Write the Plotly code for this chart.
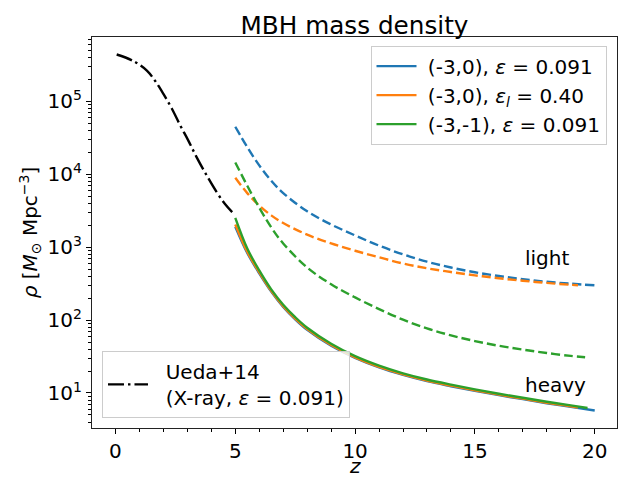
import plotly.graph_objects as go

# ---- data (stored as log10 of rho [Msun Mpc^-3]) ----
z_ueda = [0.05, 0.75, 1.31, 1.65, 2.0, 2.35, 2.7, 3.04, 3.39, 3.81, 4.23, 4.57, 4.87]
log_ueda = [5.64, 5.55, 5.42, 5.28, 5.10, 4.90, 4.67, 4.46, 4.23, 3.98, 3.75, 3.59, 3.48]

z_blue_light = [5, 5.5, 6, 6.5, 7, 8, 9, 10, 11, 12, 13, 14, 15, 16, 17, 18, 19, 20]
log_blue_light = [4.65, 4.37, 4.12, 3.91, 3.74, 3.49, 3.31, 3.16, 3.02, 2.90, 2.80, 2.72, 2.655, 2.603, 2.56, 2.525, 2.498, 2.476]

z_orange_light = [5, 5.5, 6, 6.5, 7, 8, 9, 10, 11, 12, 13, 14, 15, 16, 17, 18, 19, 19.3]
log_orange_light = [3.95, 3.74, 3.57, 3.435, 3.33, 3.17, 3.05, 2.95, 2.86, 2.775, 2.71, 2.658, 2.613, 2.573, 2.539, 2.509, 2.483, 2.476]

z_green_light = [5, 5.5, 6, 6.5, 7, 8, 9, 10, 11, 12, 13, 14, 15, 16, 17, 18, 19, 19.6]
log_green_light = [4.16, 3.84, 3.54, 3.27, 3.05, 2.72, 2.49, 2.31, 2.15, 2.005, 1.885, 1.79, 1.712, 1.647, 1.595, 1.548, 1.508, 1.49]

z_blue_heavy = [5, 5.5, 6, 6.5, 7, 7.5, 8, 9, 10, 11, 12, 13, 14, 15, 16, 17, 18, 19, 20]
log_blue_heavy = [3.28, 2.92, 2.64, 2.39, 2.18, 2.01, 1.865, 1.647, 1.48, 1.35, 1.247, 1.162, 1.093, 1.029, 0.97, 0.915, 0.86, 0.81, 0.76]

z_orange_heavy = [5, 5.5, 6, 6.5, 7, 7.5, 8, 9, 10, 11, 12, 13, 14, 15, 16, 17, 18, 19, 19.3]
log_orange_heavy = [3.31, 2.935, 2.655, 2.40, 2.19, 2.02, 1.877, 1.657, 1.488, 1.358, 1.255, 1.17, 1.10, 1.036, 0.977, 0.922, 0.867, 0.818, 0.80]

z_green_heavy = [5, 5.5, 6, 6.5, 7, 7.5, 8, 9, 10, 11, 12, 13, 14, 15, 16, 17, 18, 19, 19.7]
log_green_heavy = [3.40, 2.98, 2.68, 2.42, 2.21, 2.04, 1.895, 1.675, 1.505, 1.375, 1.27, 1.185, 1.115, 1.05, 0.99, 0.935, 0.88, 0.83, 0.795]

labels = ["(-3,0), <i>ε</i> = 0.091", "(-3,0), <i>ε<sub>l</sub></i> = 0.40", "(-3,-1), <i>ε</i> = 0.091"]
ueda_label = "Ueda+14<br>(X-ray, <i>ε</i> = 0.091)"
y_tickvals = [10, 100, 1000, 10000, 100000]
y_ticktext = ["10<sup>1</sup>", "10<sup>2</sup>", "10<sup>3</sup>", "10<sup>4</sup>", "10<sup>5</sup>"]
x_tickvals = [0, 5, 10, 15, 20]

C_BLUE, C_ORANGE, C_GREEN = "#1f77b4", "#ff7f0e", "#2ca02c"
LW = 2.4
DASH = "9px,4px"
DASHDOT = "16px,4px,2.5px,4px"
FONT = "DejaVu Sans"
FS = 20
NB = "\u00a0"

def lin(v):
    return [10 ** x for x in v]

fig = go.Figure()

def add(x, logy, color, dash, name, show, legend="legend"):
    fig.add_trace(go.Scatter(
        x=x, y=lin(logy), mode="lines", name=name, showlegend=show, legend=legend,
        line=dict(color=color, width=LW, dash=dash, shape="spline", smoothing=1.0),
    ))

# light seeds (dashed)
add(z_blue_light, log_blue_light, C_BLUE, DASH, labels[0], False)
add(z_orange_light, log_orange_light, C_ORANGE, DASH, labels[1], False)
add(z_green_light, log_green_light, C_GREEN, DASH, labels[2], False)
# heavy seeds (solid)
add(z_blue_heavy, log_blue_heavy, C_BLUE, "solid", NB + labels[0], True)
add(z_orange_heavy, log_orange_heavy, C_ORANGE, "solid", NB + labels[1], True)
add(z_green_heavy, log_green_heavy, C_GREEN, "solid", NB + labels[2], True)
# Ueda+14
add(z_ueda, log_ueda, "black", DASHDOT,
    NB + NB + ueda_label.replace("<br>", "<br>" + NB + NB), True, legend="legend2")

minor_y = [m * 10 ** k for k in range(0, 6) for m in range(2, 10)]

fig.add_annotation(x=16.99, y=2.845, yref="y", text="light", showarrow=False,
                   xanchor="left", yanchor="middle", font=dict(size=FS, family=FONT, color="black"))
fig.add_annotation(x=16.99, y=1.105, yref="y", text="heavy", showarrow=False,
                   xanchor="left", yanchor="middle", font=dict(size=FS, family=FONT, color="black"))
# x-axis title
fig.add_annotation(x=0.5, xref="paper", y=-0.097, yref="paper", text="<i>z</i>", showarrow=False,
                   xanchor="center", yanchor="middle", font=dict(size=FS, family=FONT, color="black"))

axis_common = dict(
    ticks="outside", ticklen=5, tickwidth=1.1, tickcolor="black", showgrid=False,
    zeroline=False, showline=True, linecolor="#222222", linewidth=1.1, mirror=True,
    tickfont=dict(size=FS, family=FONT, color="black"), automargin=False,
)

fig.update_layout(
    width=618, height=479,
    margin=dict(l=92, r=1, t=37, b=51),
    paper_bgcolor="white", plot_bgcolor="white",
    font=dict(family=FONT, size=FS, color="black"),
    title=dict(text="MBH mass density", xref="paper", x=0.5, xanchor="center",
               yref="container", y=0.948, yanchor="middle",
               font=dict(size=24.7, family=FONT, color="black")),
    xaxis=dict(
        range=[-0.98, 20.93], tickvals=x_tickvals,
        minor=dict(dtick=1, ticks="outside", ticklen=3, tickwidth=0.8, tickcolor="black", showgrid=False),
        **axis_common,
    ),
    yaxis=dict(
        type="log", range=[0.52, 5.88], tickvals=y_tickvals, ticktext=y_ticktext,
        minor=dict(tickvals=minor_y, ticks="outside", ticklen=3, tickwidth=0.8, tickcolor="black", showgrid=False),
        title=dict(text="<i>ρ</i> [<i>M</i><sub>⊙</sub> Mpc<sup>−3</sup>]", font=dict(size=FS), standoff=4),
        **axis_common,
    ),
    legend=dict(
        x=0.980, y=0.978, xanchor="right", yanchor="top",
        bgcolor="rgba(255,255,255,0.8)", bordercolor="#cccccc", borderwidth=1,
        font=dict(size=FS, family=FONT), tracegroupgap=0, itemwidth=40,
    ),
    legend2=dict(
        x=0.019, y=0.026, xanchor="left", yanchor="bottom",
        bgcolor="rgba(255,255,255,0.8)", bordercolor="#cccccc", borderwidth=1,
        font=dict(size=FS, family=FONT), itemwidth=40,
    ),
)

fig.write_html("out.html")
